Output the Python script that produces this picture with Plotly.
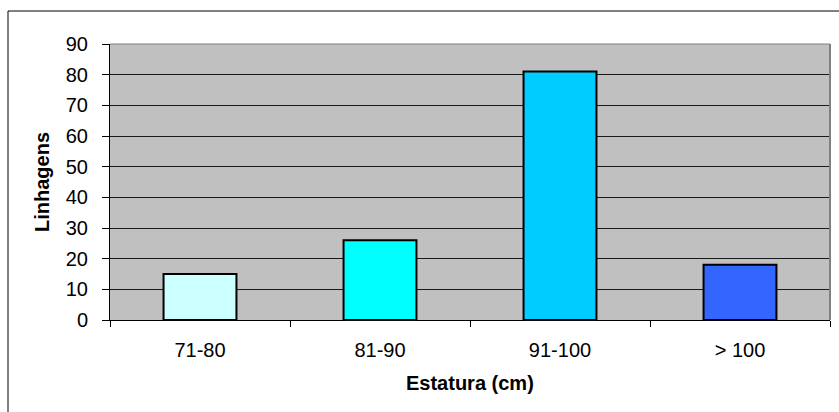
import plotly.graph_objects as go

categories = ["71-80", "81-90", "91-100", "> 100"]
values = [15, 26, 81, 18]
colors = ["#CCFFFF", "#00FFFF", "#00CCFF", "#3366FF"]
y_ticks = [0, 10, 20, 30, 40, 50, 60, 70, 80, 90]

W, H = 839, 412
ML, MR, MT, MB = 110, 9, 44, 92
PW, PH = W - ML - MR, H - MT - MB

def px_x(x):
    return (x - ML) / PW

def px_y(y):
    return 1 - (y - MT) / PH

fig = go.Figure(go.Bar(
    x=categories, y=values,
    marker=dict(color=colors, line=dict(color="#000000", width=2)),
    width=0.405,
))

font = "Liberation Sans, Arial, sans-serif"
fig.update_layout(
    width=W, height=H,
    margin=dict(l=ML, r=MR, t=MT, b=MB),
    paper_bgcolor="#FFFFFF",
    plot_bgcolor="#C0C0C0",
    showlegend=False,
    font=dict(family=font, size=20, color="#000000"),
    xaxis=dict(
        type="category",
        showgrid=False,
        showline=True, linecolor="#000000", linewidth=1,
        ticks="outside", tickson="boundaries", ticklen=6, tickcolor="#000000",
        tickfont=dict(family=font, size=20),
        ticklabelstandoff=12,
        automargin=False,
    ),
    yaxis=dict(
        range=[0, 90],
        tickvals=y_ticks,
        showgrid=True, gridcolor="#1A1A1A", gridwidth=1,
        showline=True, linecolor="#000000", linewidth=1,
        ticks="outside", ticklen=7, tickcolor="#000000",
        tickfont=dict(family=font, size=20),
        ticklabelstandoff=10,
        zeroline=False,
        automargin=False,
    ),
    shapes=[
        dict(type="rect", xref="paper", yref="paper",
             x0=px_x(8), x1=1.2, y0=-0.6, y1=px_y(11),
             line=dict(color="#000000", width=1), layer="below"),
        dict(type="line", xref="paper", yref="paper",
             x0=1, x1=1, y0=0, y1=1,
             line=dict(color="#808080", width=2)),
        dict(type="line", xref="paper", yref="paper",
             x0=0, x1=1, y0=1, y1=1,
             line=dict(color="#808080", width=1)),
    ],
    annotations=[
        dict(text="<b>Linhagens</b>", xref="paper", yref="paper",
             x=px_x(42), y=0.5, textangle=-90, showarrow=False,
             xanchor="center", yanchor="middle",
             font=dict(family=font, size=20)),
        dict(text="<b>Estatura (cm)</b>", xref="paper", yref="paper",
             x=0.5, y=px_y(383), showarrow=False,
             xanchor="center", yanchor="middle",
             font=dict(family=font, size=20)),
    ],
)

fig.write_html("out.html", config={"displayModeBar": False},
               post_script="document.body.style.margin='0';document.body.style.padding='0';")
